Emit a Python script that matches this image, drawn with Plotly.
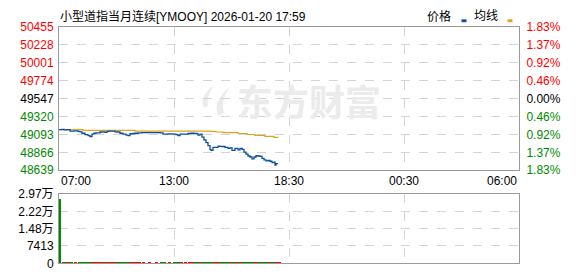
import plotly.graph_objects as go

# ---------------- data ----------------
title_text = "小型道指当月连续[YMOOY] 2026-01-20 17:59"

minute_idx = [0, 9, 15, 24, 33, 45, 57, 63, 69, 78, 87, 93, 99, 105, 111, 117, 123, 132, 138, 144,
              150, 159, 168, 174, 183, 192, 201, 207, 213, 222, 228, 237, 249, 267, 288, 303, 312, 327,
              342, 351, 357, 363, 375, 387, 396, 405, 414, 417, 423, 429, 435, 441, 447, 453, 456, 462,
              471, 477, 483, 489, 498, 507, 513, 519, 528, 537, 543, 549, 555, 561, 567, 573, 579, 585,
              591, 597, 603, 609, 615, 621, 627, 633, 639, 645, 648, 651, 657]
price = [49153, 49156, 49150, 49153, 49136, 49138, 49132, 49126, 49108, 49090, 49078, 49066, 49096,
         49108, 49112, 49114, 49124, 49126, 49120, 49132, 49136, 49136, 49126, 49124, 49108, 49096,
         49084, 49078, 49102, 49105, 49108, 49114, 49117, 49117, 49117, 49114, 49096, 49099, 49096,
         49090, 49078, 49096, 49096, 49105, 49108, 49105, 49099, 49084, 49096, 49060, 49024, 48988,
         48952, 48904, 48892, 48928, 48928, 48946, 48943, 48940, 48928, 48916, 48922, 48892, 48916,
         48898, 48916, 48904, 48868, 48844, 48820, 48807, 48783, 48807, 48823, 48820, 48814, 48789,
         48771, 48759, 48763, 48753, 48735, 48741, 48703, 48723, 48723]

avg_idx = [0, 72, 228, 453, 471, 492, 537, 564, 588, 618, 645, 657]
avg_price = [49153, 49144, 49136, 49132, 49124, 49115, 49105, 49092, 49080, 49068, 49056, 49054]

volume = [27630, 310, 180, 260, 410, 150, 220, 380, 290, 170, 350, 240, 200, 330, 160, 270, 420,
          190, 230, 360, 140, 280, 300, 210, 390, 250, 170, 320, 260, 180, 340, 220, 150, 290, 200,
          310, 380, 240, 170, 260, 330, 190, 280, 220, 160, 350, 300, 410, 270, 450, 520, 480, 430,
          500, 390, 360, 310, 280, 330, 250, 300, 340, 270, 380, 290, 320, 260, 350, 400, 370, 420,
          340, 390, 310, 280, 330, 300, 360, 410, 290, 320, 350, 380, 300, 440, 330, 360]

price_ticks = [50455, 50228, 50001, 49774, 49547, 49320, 49093, 48866, 48639]
pct_labels = ["1.83%", "1.37%", "0.92%", "0.46%", "0.00%", "0.46%", "0.92%", "1.37%", "1.83%"]
time_pos = [0, 345, 690, 1035, 1380]
time_labels = ["07:00", "13:00", "18:30", "00:30", "06:00"]
vol_ticks = [0, 7413, 14826, 22239, 29652]
vol_labels = ["0", "7413", "1.48万", "2.22万", "2.97万"]
base_price = 49547
legend_names = ["价格", "均线"]

# ---------------- style ----------------
W, H = 578, 276
RED, GREEN, BLACK = "#ff0000", "#008a00", "#000000"
BLUE, ORANGE = "#0a4f9e", "#dfa21f"
BORDER, GRID = "#9a9a9a", "#d4d4d4"
FONT = "Liberation Sans, Noto Sans CJK SC, sans-serif"

def px_x(p):
    return p / W

def px_y(p):
    return 1 - p / H

xd = [px_x(59), px_x(519)]
main_dom = [px_y(172), px_y(21)]
vol_dom = [px_y(270), px_y(197)]

def col(v):
    if v > base_price:
        return RED
    if v < base_price:
        return GREEN
    return BLACK

left_text = [f"<span style='color:{col(v)}'>{v}</span>" for v in price_ticks]
right_text = [f"<span style='color:{col(v)}'>{t}</span>" for v, t in zip(price_ticks, pct_labels)]

vol_colors = [GREEN]
for i in range(1, len(price)):
    vol_colors.append(RED if price[i] >= price[i - 1] else GREEN)

fig = go.Figure()
fig.add_trace(go.Scatter(x=avg_idx, y=avg_price, mode="lines", line=dict(color=ORANGE, width=1.2, shape="hv"),
                         xaxis="x", yaxis="y", hoverinfo="skip"))
fig.add_trace(go.Scatter(x=minute_idx, y=price, mode="lines", line=dict(color=BLUE, width=1.3, shape="hv"),
                         xaxis="x", yaxis="y", hoverinfo="skip"))
fig.add_trace(go.Scatter(x=[minute_idx[0]], y=[price[0]], mode="markers", marker=dict(opacity=0),
                         xaxis="x", yaxis="y3", hoverinfo="skip"))
fig.add_trace(go.Bar(x=minute_idx, y=volume, marker=dict(color=vol_colors, line=dict(width=0)),
                     width=[6] + [9] * (len(volume) - 1), offset=0, xaxis="x2", yaxis="y2", hoverinfo="skip"))

axis_common = dict(showline=True, mirror=True, linecolor=BORDER, linewidth=1, zeroline=False,
                   gridcolor=GRID, griddash="dash", gridwidth=1, fixedrange=True)

fig.update_layout(
    width=W, height=H, margin=dict(l=0, r=0, t=0, b=0),
    paper_bgcolor="white", plot_bgcolor="white", showlegend=False,
    font=dict(family=FONT, size=12, color="#000"),
    bargap=0,
    xaxis=dict(domain=xd, range=[0, 1380], tickvals=time_pos, showticklabels=False, anchor="y",
               showgrid=True, **axis_common),
    yaxis=dict(domain=main_dom, range=[48639, 50455], tickvals=price_ticks, ticktext=left_text,
               showgrid=True, anchor="x", ticklabelstandoff=2, **axis_common),
    yaxis3=dict(overlaying="y", side="right", range=[48639, 50455], tickvals=price_ticks,
                ticktext=right_text, showgrid=False, anchor="x", ticklabelstandoff=4, **axis_common),
    xaxis2=dict(domain=xd, range=[0, 1380], tickvals=time_pos, showticklabels=False, anchor="y2",
                showgrid=True, **axis_common),
    yaxis2=dict(domain=vol_dom, range=[0, 29652], tickvals=vol_ticks, ticktext=vol_labels,
                showgrid=True, anchor="x2", ticklabelstandoff=2, **axis_common),
)

# time labels under the price panel
anchors = ["left", "center", "center", "center", "right"]
for pos, lab, anc in zip(time_pos, time_labels, anchors):
    fig.add_annotation(x=pos, y=px_y(183), xref="x", yref="paper", text=lab, showarrow=False,
                       xanchor=anc, yanchor="middle", font=dict(size=12, family=FONT, color="#000"))

# title
fig.add_annotation(x=px_x(58), y=px_y(10), xref="paper", yref="paper", text=title_text, showarrow=False,
                   xanchor="left", yanchor="middle", font=dict(size=12, family=FONT, color="#000"))

# legend
fig.add_annotation(x=px_x(453), y=px_y(10), xref="paper", yref="paper", text=legend_names[0],
                   showarrow=False, xanchor="right", yanchor="middle", font=dict(size=12, family=FONT))
fig.add_annotation(x=px_x(500), y=px_y(10), xref="paper", yref="paper", text=legend_names[1],
                   showarrow=False, xanchor="right", yanchor="middle", font=dict(size=12, family=FONT))
fig.add_shape(type="rect", xref="paper", yref="paper", x0=px_x(461.5), x1=px_x(466.5), y0=px_y(16),
              y1=px_y(13), fillcolor=BLUE, line=dict(width=0))
fig.add_shape(type="rect", xref="paper", yref="paper", x0=px_x(507.5), x1=px_x(512.5), y0=px_y(16),
              y1=px_y(13), fillcolor=ORANGE, line=dict(width=0))

# watermark
fig.add_annotation(x=px_x(309), y=px_y(98), xref="paper", yref="paper", text="<b>东方财富</b>",
                   showarrow=False, xanchor="center", yanchor="middle",
                   font=dict(size=36, family="Noto Sans CJK SC", color="#ebebeb"))
fig.add_shape(type="path", xref="paper", yref="paper", layer="below",
              path=(f"M {px_x(214)} {px_y(82)} Q {px_x(198)} {px_y(96)} {px_x(204)} {px_y(106)} "
                    f"L {px_x(208)} {px_y(104)} Q {px_x(206)} {px_y(94)} {px_x(214)} {px_y(82)} Z "
                    f"M {px_x(230)} {px_y(84)} Q {px_x(212)} {px_y(100)} {px_x(218)} {px_y(114)} "
                    f"L {px_x(224)} {px_y(112)} Q {px_x(220)} {px_y(98)} {px_x(230)} {px_y(84)} Z"),
              fillcolor="#ebebeb", line=dict(width=0))

fig.write_html("out.html")
